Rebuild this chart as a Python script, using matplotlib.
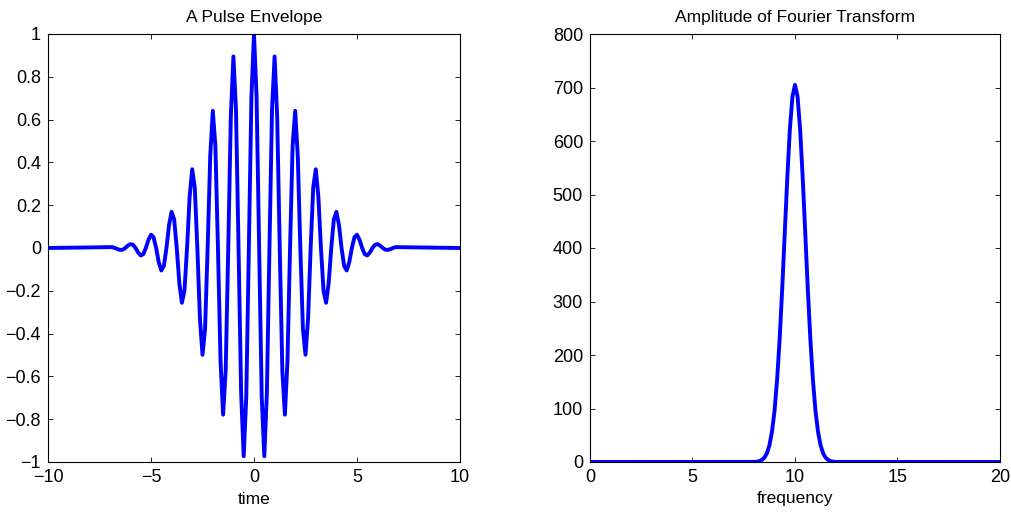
import matplotlib
matplotlib.use('Agg')
import matplotlib.pyplot as plt
import numpy as np

plt.rcParams['font.family'] = ['Liberation Sans', 'DejaVu Sans']
plt.rcParams['axes.unicode_minus'] = True

# pulse samples (zero outside |t| <= 7)
t_pos = [0, 0.125, 0.25, 0.375, 0.5, 0.625, 0.75, 0.875,
         1, 1.125, 1.25, 1.375, 1.5, 1.625, 1.75, 1.875,
         2, 2.125, 2.25, 2.375, 2.5, 2.625, 2.75, 2.875,
         3, 3.125, 3.25, 3.375, 3.5, 3.625, 3.75, 3.875,
         4, 4.125, 4.25, 4.375, 4.5, 4.625, 4.75, 4.875,
         5, 5.125, 5.25, 5.375, 5.5, 5.625, 5.75, 5.875,
         6, 6.125, 6.25, 6.375, 6.5, 6.625, 6.75, 6.875, 7, 10]
pulse_pos = [1.0, 0.706, 0, -0.696, -0.973, -0.677, 0, 0.649,
             0.895, 0.614, 0, -0.573, -0.779, -0.527, 0, 0.478,
             0.641, 0.428, 0, -0.378, -0.499, -0.329, 0, 0.282,
             0.368, 0.239, 0, -0.199, -0.256, -0.164, 0, 0.133,
             0.169, 0.107, 0, -0.084, -0.105, -0.066, 0, 0.050,
             0.062, 0.038, 0, -0.029, -0.035, -0.021, 0, 0.015,
             0.018, 0.011, 0, -0.008, -0.009, -0.005, 0, 0.004, 0.004, 0]

# symmetric pulse: mirror the positive half
time = [-x for x in t_pos[:0:-1]] + t_pos
pulse = pulse_pos[:0:-1] + pulse_pos

# amplitude of transform
freq = [0, 8, 8.125, 8.25, 8.375, 8.5, 8.625, 8.75, 8.875,
        9, 9.125, 9.25, 9.375, 9.5, 9.625, 9.75, 9.875, 10,
        10.125, 10.25, 10.375, 10.5, 10.625, 10.75, 10.875,
        11, 11.125, 11.25, 11.375, 11.5, 11.625, 11.75, 11.875, 12, 20]
amp = [0, 0.2, 0.6, 1.5, 3.6, 7.8, 16, 31, 56,
       95, 153, 229, 323, 428, 532, 622, 683, 705,
       683, 622, 532, 428, 323, 229, 153,
       95, 56, 31, 16, 7.8, 3.6, 1.5, 0.6, 0.2, 0]

fig = plt.figure(figsize=(10.12, 5.13), dpi=100)
ax1 = fig.add_axes([48/1012, 51/513, 412/1012, 428/513])
ax2 = fig.add_axes([590/1012, 51/513, 410/1012, 428/513])

ax1.plot(time, pulse, color='blue', lw=2.8, solid_joinstyle='round')
ax1.set_xlim(-10, 10)
ax1.set_ylim(-1, 1)
ax1.set_xticks([-10, -5, 0, 5, 10])
ax1.set_yticks(np.arange(-1, 1.01, 0.2).round(1))
ax1.set_yticklabels(['\u22121', '\u22120.8', '\u22120.6', '\u22120.4', '\u22120.2', '0',
                     '0.2', '0.4', '0.6', '0.8', '1'])
ax1.set_xlabel('time', fontsize=12.5, labelpad=4)
ax1.set_title('A Pulse Envelope', fontsize=12.5, pad=9)

ax2.plot(freq, amp, color='blue', lw=2.8, solid_joinstyle='round')
ax2.set_xlim(0, 20)
ax2.set_ylim(0, 800)
ax2.set_xticks([0, 5, 10, 15, 20])
ax2.set_yticks(range(0, 801, 100))
ax2.set_xlabel('frequency', fontsize=12.5, labelpad=4)
ax2.set_title('Amplitude of Fourier Transform', fontsize=12.5, pad=9)

for ax in (ax1, ax2):
    ax.tick_params(direction='in', top=True, right=True, labelsize=13,
                   length=3.5, width=0.6, pad=5)
    for s in ax.spines.values():
        s.set_linewidth(0.8)

plt.savefig('out.png', dpi=100)
